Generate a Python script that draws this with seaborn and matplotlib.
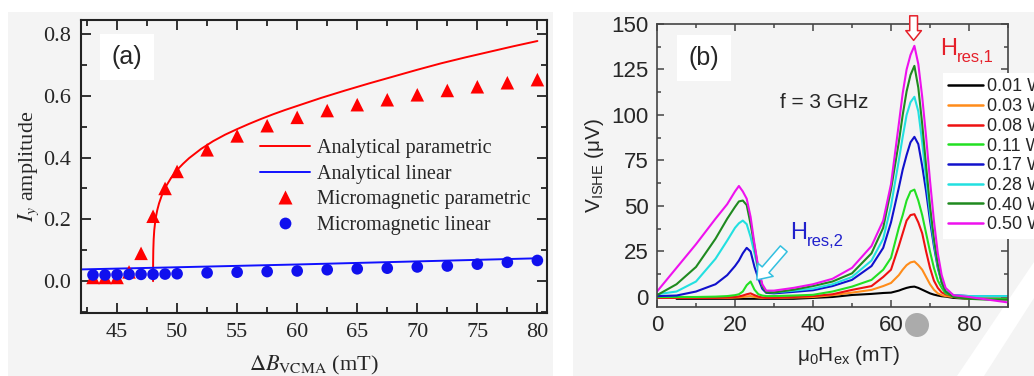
import numpy as np
import pandas as pd
import matplotlib
matplotlib.use("Agg")
import matplotlib.pyplot as plt
from matplotlib.patches import Rectangle, Circle, Polygon
from matplotlib.lines import Line2D
import seaborn as sns

# ---------------- panel (a): l_y amplitude vs VCMA field ----------------
b_ana_param = [48.0, 48.005, 48.02, 48.05, 48.1, 48.2, 48.35, 48.5, 48.75, 49.0, 49.5,
               50.0, 50.5, 51.0, 52.0, 53.0, 54.0, 55.0, 56.0, 57.0, 58.0, 59.0, 60.0,
               62.0, 64.0, 66.0, 68.0, 70.0, 72.0, 74.0, 76.0, 78.0, 80.0]
amp_ana_param = [0.0, 0.06, 0.10, 0.135, 0.165, 0.20, 0.23, 0.252, 0.28, 0.302, 0.334,
                 0.36, 0.38, 0.398, 0.428, 0.453, 0.474, 0.492, 0.509, 0.525, 0.54, 0.554,
                 0.567, 0.593, 0.617, 0.64, 0.662, 0.684, 0.705, 0.724, 0.742, 0.76, 0.777]

b_ana_lin = [42.0, 50.0, 60.0, 70.0, 80.0]
amp_ana_lin = [0.038, 0.045, 0.054, 0.064, 0.074]

b_sim = [43, 44, 45, 46, 47, 48, 49, 50, 52.5, 55, 57.5, 60, 62.5, 65, 67.5,
         70, 72.5, 75, 77.5, 80]
amp_sim_param = [0.012, 0.012, 0.012, 0.03, 0.09, 0.21, 0.30, 0.355, 0.425, 0.47,
                 0.503, 0.53, 0.552, 0.571, 0.587, 0.603, 0.617, 0.629, 0.642, 0.652]
amp_sim_lin = [0.02, 0.02, 0.021, 0.022, 0.022, 0.022, 0.023, 0.024, 0.027, 0.029,
               0.031, 0.033, 0.037, 0.04, 0.042, 0.046, 0.049, 0.055, 0.061, 0.067]

# ---------------- panel (b): ISHE voltage vs external field ----------------
field = [0, 5, 10, 15, 18, 20, 21, 22, 23, 24, 25, 26, 27, 28, 30, 35, 40, 45, 50,
         55, 58, 60, 62, 63, 64, 65, 66, 67, 68, 69, 70, 71, 72, 73, 74, 76, 80, 85, 90]
powers = ["0.01 W", "0.03 W", "0.08 W", "0.11 W", "0.17 W", "0.28 W", "0.40 W", "0.50 W"]
v_001 = [np.nan, -1, -1, -1, -1, -1, -1, -1, -1, -1, -1, -1, -1, -1, -1, -1, -0.5, 0,
         1.1, 1.7, 2.2, 2.4, 3.5, 4.3, 5, 5.5, 5.7, 5, 4, 3, 2, 1.3, 0.8, 0.4, 0.2,
         -0.5, -1, -1, -1]
v_003 = [-0.5, -0.5, -0.5, -0.5, -0.5, -0.3, -0.2, 0, 0.3, 0.5, 0, -0.3, -0.5, -0.5,
         -0.5, -0.3, 0, 1, 2.4, 3.9, 6, 7.7, 12, 15, 17.5, 19, 19.5, 17.5, 15, 11, 7,
         4, 2, 1, 0.5, 0, -1, -1, -1]
v_008 = [-0.5, -0.5, -0.5, -0.5, -0.3, 0, 0.3, 0.8, 1.5, 2, 1, 0.2, -0.3, -0.5, -0.5,
         0, 0.5, 1.5, 3.9, 6, 11, 15, 28, 35, 42, 45, 45.5, 41, 35, 25, 16, 9, 5, 2.5,
         1.5, 0.5, -1, -1, -1]
v_011 = [0, 0, 0, 0.2, 0.5, 1, 1.5, 3, 6.5, 8.5, 4, 1.5, 0.8, 0.5, 0.5, 0.8, 1.2, 3,
         5.7, 9.4, 15, 21.5, 38, 45, 53, 58, 59, 53, 45, 35, 25, 16, 9, 5, 2, 0.5, -1,
         -1, -1]
v_017 = [0.5, 0.8, 3, 7, 12, 17, 20, 24, 27, 25, 16.5, 10, 4.5, 2.3, 2, 2.8, 3.7, 6,
         9.4, 17, 27, 41, 60, 70, 78, 85, 88, 84, 72, 58, 42, 28, 16, 8, 3, 1, 0.5,
         0.5, 0.5]
v_028 = [1.5, 3, 8.5, 21, 31, 38, 40.5, 42, 40, 33, 24, 14, 6, 3, 2.5, 3.5, 4.6, 7,
         11, 20, 32, 50, 75, 88, 100, 107, 110, 102, 85, 65, 46, 30, 17, 8, 3, 1, 0.5,
         0.5, 0.5]
v_040 = [1, 7, 16.5, 32, 43, 49.5, 52.5, 53, 50.5, 40, 28, 15, 6, 2.5, 2.5, 4, 6, 8.5,
         13, 24, 38, 59, 85, 100, 113, 122, 127, 115, 95, 72, 50, 32, 18, 8, 3, 0, -1,
         -1.5, -1.5]
v_050 = [3, 16, 29, 43, 51, 58, 61, 58, 54, 44, 29, 16, 7, 3.5, 3.5, 5, 7, 10, 16, 28,
         42, 62, 95, 112, 125, 133, 138, 128, 110, 88, 64, 42, 24, 12, 5, 1, 0, -1.5, -3]

line_colors = ["#000000", "#ff8c1a", "#ee1111", "#22e022",
               "#1111cc", "#22e0e0", "#1f8a1f", "#ee11ee"]

# ---------------- styling ----------------
sns.set_style("ticks")
plt.rcParams["font.family"] = ["Liberation Sans", "DejaVu Sans"]
plt.rcParams["mathtext.fontset"] = "stix"

W, H = 1034, 376
fig = plt.figure(figsize=(W / 100, H / 100), dpi=100, facecolor="white")
BG = "#f4f4f4"


def fx(px):
    return px / W


def fy(py):
    return 1 - py / H


# light grey panel backgrounds (pixel coordinates, origin bottom-left)
fig.patches.append(Rectangle((8, 0), 545, H - 12, transform=None,
                             facecolor=BG, edgecolor="none", zorder=-10))
fig.patches.append(Rectangle((573, 0), W - 573, H - 12, transform=None,
                             facecolor=BG, edgecolor="none", zorder=-10))
# pale diagonal stroke in the lower right corner
fig.patches.append(Polygon([(957, 0), (984, 0), (W, H - 298), (W, H - 262)], closed=True,
                           transform=None, facecolor="white", edgecolor="none", zorder=-5))

serif = ["Liberation Serif", "DejaVu Serif"]
sans = ["Liberation Sans", "DejaVu Sans"]
spine_col = "#222222"

# ======== panel (a) ========
axa = fig.add_axes([fx(81), fy(313), fx(547) - fx(81), fy(20) - fy(313)])
axa.set_facecolor(BG)

sns.lineplot(x=b_ana_param, y=amp_ana_param, ax=axa, color="#ff0000", lw=1.4,
             sort=False, estimator=None, zorder=2)
sns.lineplot(x=b_ana_lin, y=amp_ana_lin, ax=axa, color="#1010ff", lw=1.4,
             sort=False, estimator=None, zorder=2)
sns.scatterplot(x=b_sim, y=amp_sim_param, ax=axa, marker="^", s=95, color="#ff0000",
                edgecolor="none", zorder=3)
sns.scatterplot(x=b_sim, y=amp_sim_lin, ax=axa, marker="o", s=70, color="#1010ee",
                edgecolor="none", zorder=4)

axa.set_xlim(42, 80.8)
axa.set_ylim(-0.103, 0.845)
axa.set_xticks(np.arange(45, 81, 5))
axa.set_xticks(np.arange(42.5, 81, 5), minor=True)
axa.set_yticks(np.arange(0, 0.81, 0.2))
axa.set_yticks(np.arange(-0.1, 0.85, 0.2), minor=True)
axa.set_yticklabels([f"{v:.1f}" for v in np.arange(0, 0.81, 0.2)])
axa.tick_params(which="both", direction="in", top=True, right=True, width=1.3,
                color=spine_col, labelsize=16, pad=7)
axa.tick_params(which="major", length=7.5)
axa.tick_params(which="minor", length=4.5)
for lab in axa.get_xticklabels() + axa.get_yticklabels():
    lab.set_fontfamily(serif)
for s in axa.spines.values():
    s.set_linewidth(1.5)
    s.set_color(spine_col)
axa.set_xlabel(r"$\Delta B_{\rm VCMA}$ (mT)", fontsize=16, family=serif, labelpad=9)
axa.set_ylabel(r"$I_y$ amplitude", fontsize=16, family=serif, labelpad=2)

handles_a = [
    Line2D([], [], color="#ff0000", lw=1.4),
    Line2D([], [], color="#1010ff", lw=1.4),
    Line2D([], [], color="#ff0000", marker="^", ls="none", ms=10, mec="none"),
    Line2D([], [], color="#1010ee", marker="o", ls="none", ms=8.5, mec="none"),
]
labels_a = ["Analytical parametric", "Analytical linear",
            "Micromagnetic parametric", "Micromagnetic linear"]
axa.legend(handles_a, labels_a, loc="upper left", bbox_to_anchor=(fx(260), fy(139)),
           bbox_transform=fig.transFigure, frameon=False, borderpad=0, borderaxespad=0,
           handlelength=2.5, handletextpad=0.35, labelspacing=0.32,
           prop={"family": serif, "size": 14.5})

axa.text(127, H - 57, "(a)", transform=None, fontsize=18, family=sans, ha="center",
         va="center", bbox=dict(boxstyle="square,pad=0.45", fc="white", ec="none"))

# ======== panel (b) ========
axb = fig.add_axes([fx(657), fy(307), fx(1008) - fx(657), fy(24) - fy(307)])
axb.set_facecolor(BG)

df = pd.DataFrame({"field": field, **dict(zip(powers, [v_001, v_003, v_008, v_011,
                                                        v_017, v_028, v_040, v_050]))})
long = df.melt(id_vars="field", var_name="power", value_name="v").dropna()
sns.lineplot(data=long, x="field", y="v", hue="power", hue_order=powers,
             palette=line_colors, lw=1.5, sort=False, estimator=None, ax=axb, legend=False)

axb.set_xlim(0, 90)
axb.set_ylim(-5.5, 150)
axb.set_xticks(np.arange(0, 81, 20))
axb.set_xticks(np.arange(10, 91, 20), minor=True)
axb.set_yticks(np.arange(0, 151, 25))
axb.set_yticks(np.arange(12.5, 150, 25), minor=True)
axb.tick_params(which="both", direction="in", top=True, right=True, width=1.1,
                color="#444444", labelsize=16, pad=6)
axb.tick_params(which="major", length=5)
axb.tick_params(which="minor", length=3)
for s in axb.spines.values():
    s.set_linewidth(1.2)
    s.set_color("#444444")
axb.set_xlabel(r"$\mathregular{μ_0H_{ex}}$ (mT)", fontsize=15, family=sans, labelpad=6)
axb.xaxis.set_label_coords((848 - 657) / (1008 - 657), -0.13)
axb.set_ylabel(r"$\mathregular{V_{ISHE}}$ (μV)", fontsize=15, family=sans, labelpad=4)

handles_b = [Line2D([], [], color=c, lw=1.8) for c in line_colors]
legb = axb.legend(handles_b, powers, loc="upper left", bbox_to_anchor=(fx(943), fy(73)),
                  bbox_transform=fig.transFigure, frameon=True, fancybox=False,
                  facecolor="white", edgecolor="none", framealpha=1, borderpad=0.3,
                  borderaxespad=0, handlelength=1.9, handletextpad=0.25,
                  labelspacing=0.15, prop={"family": sans, "size": 13})

axb.text(704, H - 58, "(b)", transform=None, fontsize=18, family=sans, ha="center",
         va="center", bbox=dict(boxstyle="square,pad=0.45", fc="white", ec="none"))
axb.text(780, H - 103, "f = 3 GHz", transform=None, fontsize=15, family=sans,
         ha="left", va="center")

# resonance labels: letter plus lowered subscript
axb.text(940, H - 49, "H", transform=None, fontsize=17, family=sans,
         color="#e5202a", ha="left", va="center")
axb.text(957, H - 58, "res,1", transform=None, fontsize=12, family=sans,
         color="#e5202a", ha="left", va="center")
axb.text(790, H - 233, "H", transform=None, fontsize=17, family=sans,
         color="#2020cc", ha="left", va="center")
axb.text(807, H - 242, "res,2", transform=None, fontsize=12, family=sans,
         color="#2020cc", ha="left", va="center")

axb.annotate("", xy=(65.8, 141), xytext=(65.8, 154.5), annotation_clip=False,
             arrowprops=dict(arrowstyle="simple,head_length=0.5,head_width=0.8,tail_width=0.4",
                             fc="white", ec="#e5202a", lw=1.1, mutation_scale=14,
                             shrinkA=0, shrinkB=0))
axb.annotate("", xy=(25.6, 9.4), xytext=(32.5, 26.5), annotation_clip=False,
             arrowprops=dict(arrowstyle="simple,head_length=0.6,head_width=0.9,tail_width=0.4",
                             fc="white", ec="#33c0e0", lw=1.1, mutation_scale=16,
                             shrinkA=0, shrinkB=0))

# grey round mark near the lower right
fig.patches.append(Circle((917, H - 325), radius=12, transform=None,
                          facecolor="#ababab", edgecolor="none", zorder=10))

fig.savefig("out.png", dpi=100, facecolor="white")
